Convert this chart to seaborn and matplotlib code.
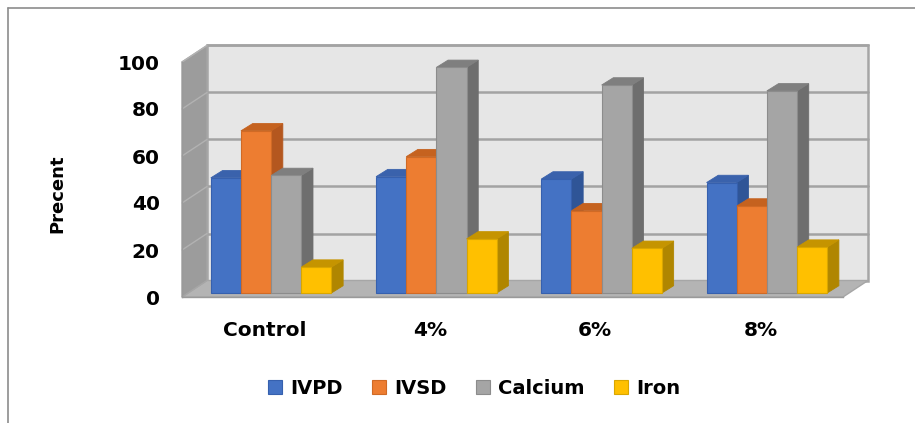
import matplotlib
matplotlib.use("Agg")
import matplotlib.pyplot as plt
from matplotlib.patches import Polygon, Patch
from matplotlib.lines import Line2D
import pandas as pd
import seaborn as sns

# values
groups = ["Control", "4%", "6%", "8%"]
series = ["IVPD", "IVSD", "Calcium", "Iron"]
ivpd = [49, 49.5, 48.5, 47]
ivsd = [69, 58, 35, 37]
calcium = [50, 96, 88.5, 86]
iron = [11, 23, 19, 19.5]

front_colors = ["#4472C4", "#ED7D31", "#A5A5A5", "#FFC000"]
side_colors = ["#2F5597", "#B4571F", "#6E6E6E", "#B08600"]
top_colors = ["#3A62AC", "#C5621F", "#7F7F7F", "#C59400"]
edge_colors = ["#3660AE", "#D06A25", "#8C8C8C", "#D9A600"]

df = pd.DataFrame({
    "group": groups * 4,
    "nutrient": [s for s in series for _ in groups],
    "value": ivpd + ivsd + calcium + iron,
})

sns.set_style("white")
plt.rcParams["font.family"] = ["DejaVu Sans"]
plt.rcParams["font.weight"] = "bold"
plt.rcParams["text.color"] = "black"
plt.rcParams["xtick.labelcolor"] = "black"
plt.rcParams["ytick.labelcolor"] = "black"
plt.rcParams["axes.labelcolor"] = "black"

W, H = 915, 423
fig = plt.figure(figsize=(W / 100, H / 100), dpi=100)
ax = fig.add_axes([182 / W, (H - 297) / H, 661 / W, 235 / H])

sns.barplot(data=df, x="group", y="value", hue="nutrient", palette=front_colors,
            saturation=1, width=0.73, legend=False, ax=ax)
ax.set_xlim(-0.5, 3.5)
ax.set_ylim(0, 100)
ax.patch.set_visible(False)

# pixel -> data units
bb = ax.get_window_extent()
ux = 4 / bb.width
uy = 100 / bb.height

# fake 3d box: back wall, floor, side wall
x0, x1 = -0.5, 3.5
wdx, wdy = 25 * ux, 16.5 * uy
ax.add_patch(Polygon([(x0 + wdx, wdy), (x1 + wdx, wdy), (x1 + wdx, 100 + wdy), (x0 + wdx, 100 + wdy)],
                     closed=True, fc="#e6e6e6", ec="#a6a6a6", lw=1.8, zorder=0, clip_on=False))
ax.add_patch(Polygon([(x0, 0), (x1, 0), (x1 + wdx, wdy), (x0 + wdx, wdy)],
                     closed=True, fc="#b4b4b4", ec="#a6a6a6", lw=1, zorder=1, clip_on=False))
ax.add_patch(Polygon([(x0, 0), (x0 + wdx, wdy), (x0 + wdx, 100 + wdy), (x0, 100)],
                     closed=True, fc="#9c9c9c", ec="#a6a6a6", lw=1, zorder=1, clip_on=False))
for v in range(20, 101, 20):
    ax.plot([x0 + wdx, x1 + wdx], [v + wdy, v + wdy], color="#a3a3a3", lw=1.8, zorder=0.5, clip_on=False)
    ax.plot([x0, x0 + wdx], [v, v + wdy], color="#b2b2b2", lw=1, zorder=1.5, clip_on=False)

# give the bars depth
sx, sy = 6.5 * ux, 4 * uy
bdx, bdy = 11.7 * ux, 7.3 * uy
for i, cont in enumerate(ax.containers):
    for p in cont.patches:
        bx = p.get_x() + sx
        w = p.get_width()
        h = p.get_height()
        z = 3 + bx * 0.1
        p.set_x(bx)
        p.set_y(sy)
        p.set_edgecolor(edge_colors[i])
        p.set_linewidth(0.8)
        p.set_zorder(z + 0.01)
        p.set_clip_on(False)
        ax.add_patch(Polygon([(bx + w, sy), (bx + w + bdx, sy + bdy), (bx + w + bdx, sy + h + bdy), (bx + w, sy + h)],
                             closed=True, fc=side_colors[i], ec=side_colors[i], lw=0.6, zorder=z, clip_on=False))
        ax.add_patch(Polygon([(bx, sy + h), (bx + bdx, sy + h + bdy), (bx + w + bdx, sy + h + bdy), (bx + w, sy + h)],
                             closed=True, fc=top_colors[i], ec=top_colors[i], lw=0.6, zorder=z, clip_on=False))

sns.despine(ax=ax, top=True, right=True)
for s in ["left", "bottom"]:
    ax.spines[s].set_color("#9a9a9a")
    ax.spines[s].set_linewidth(1)

ax.set_yticks(range(0, 101, 20))
ax.tick_params(axis="y", length=5, width=1, color="#9a9a9a", pad=11, labelsize=14.5)
ax.set_xticks([-0.5, 0.5, 1.5, 2.5, 3.5], labels=[""] * 5)
ax.set_xticks(range(4), labels=groups, minor=True)
ax.tick_params(axis="x", which="major", length=6, width=1, color="#9a9a9a")
ax.tick_params(axis="x", which="minor", length=0, pad=17, labelsize=14.5)
for t in ax.get_xticklabels(minor=True) + ax.get_yticklabels():
    t.set_fontweight("bold")

ax.set_xlabel("")
ax.set_ylabel("Precent", fontsize=13, fontweight="bold", va="center")
ax.yaxis.set_label_coords(-0.189, 0.438)

handles = [Patch(facecolor=c, edgecolor=e, lw=0.8) for c, e in zip(front_colors, edge_colors)]
fig.legend(handles, series, loc="center", bbox_to_anchor=(474 / W, 1 - 388 / H), ncol=4,
           frameon=False, prop={"size": 14, "weight": "bold"}, handlelength=0.75,
           handleheight=0.75, handletextpad=0.4, columnspacing=1.5)

# chart area border (top and left visible in reference)
fig.add_artist(Line2D([8 / W, 1], [1 - 8 / H, 1 - 8 / H], transform=fig.transFigure, color="#8c8c8c", lw=1.2))
fig.add_artist(Line2D([8 / W, 8 / W], [0, 1 - 8 / H], transform=fig.transFigure, color="#8c8c8c", lw=1.2))

fig.savefig("out.png", dpi=100)
